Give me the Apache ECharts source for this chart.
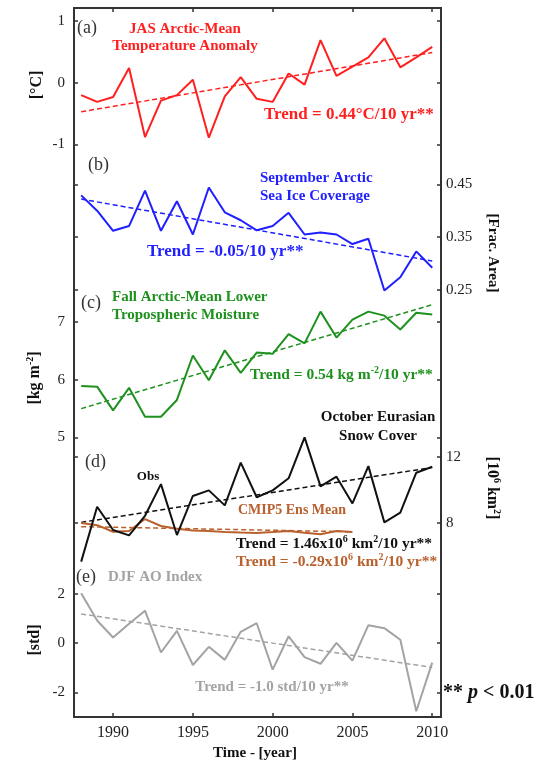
<!DOCTYPE html>
<html><head><meta charset="utf-8">
<script src="https://cdn.jsdelivr.net/npm/echarts@6/dist/echarts.min.js"></script>
<style>html,body{margin:0;padding:0;background:#fff;}#c{width:544px;height:763px;}</style>
</head><body><div id="c"></div>
<script>
const years = [1988,1989,1990,1991,1992,1993,1994,1995,1996,1997,1998,1999,2000,2001,2002,2003,2004,2005,2006,2007,2008,2009,2010];
const cmipYears = [1988,1989,1990,1991,1992,1993,1994,1995,1996,1997,1998,1999,2000,2001,2002,2003,2004,2005];
const tempAnom = [-0.2,-0.31,-0.23,0.24,-0.88,-0.29,-0.2,0.05,-0.89,-0.22,0.09,-0.26,-0.31,0.15,-0.03,0.69,0.11,0.26,0.41,0.72,0.25,0.41,0.58];
const seaIce = [0.429,0.4,0.362,0.371,0.438,0.362,0.418,0.355,0.444,0.397,0.382,0.363,0.371,0.396,0.355,0.359,0.355,0.337,0.347,0.249,0.274,0.323,0.292];
const moisture = [5.89,5.88,5.47,5.86,5.36,5.36,5.65,6.42,5.99,6.51,6.12,6.47,6.45,6.79,6.63,7.18,6.73,7.04,7.18,7.11,6.87,7.16,7.13];
const snowObs = [5.64,8.97,7.56,7.23,8.42,10.34,7.25,9.62,9.96,9.05,11.64,9.54,9.96,10.69,13.17,10.2,10.79,9.17,11.43,8.02,8.61,11.03,11.39];
const snowCmip = [7.98,7.85,7.45,7.5,8.22,7.8,7.64,7.53,7.5,7.44,7.4,7.38,7.43,7.5,7.39,7.3,7.5,7.43];
const aoIndex = [2.03,0.92,0.23,0.79,1.32,-0.38,0.5,-0.89,-0.15,-0.68,0.46,0.81,-1.08,0.28,-0.57,-0.84,0.01,-0.71,0.73,0.61,0.14,-2.77,-0.79];
const trendYears = [1988,2010];
const cmipTrendYears = [1988,2005];
const trendTemp = [-0.47,0.49];
const trendIce = [0.422,0.305];
const trendMoist = [5.5,7.3];
const trendSnowObs = [8.02,11.35];
const trendSnowCmip = [7.76,7.45];
const trendAO = [1.19,-0.99];
const xTickLabels = [1990,1995,2000,2005,2010];

const SERIF = '"Liberation Serif","Times New Roman",serif';
const chart = echarts.init(document.getElementById('c'));
const XMIN = 1987.55, XMAX = 2010.55;
const L = 74, W = 367;

const panels = [
  {top:21, h:123.5, min:-1, max:1, interval:1, labelSide:'left'},
  {top:184.3, h:105.7, min:0.25, max:0.45, interval:0.1, labelSide:'right'},
  {top:322, h:115.5, min:5, max:7, interval:1, labelSide:'left'},
  {top:456.7, h:66, min:8, max:12, interval:4, labelSide:'right'},
  {top:594, h:98.3, min:-2, max:2, interval:2, labelSide:'left'}
];
const grids = panels.map(p => ({left:L, width:W, top:p.top, height:p.h, outerBoundsMode:'none'}));
grids.push({left:L, width:W, top:8, height:709, show:true, borderColor:'#333', borderWidth:2, backgroundColor:'transparent', outerBoundsMode:'none'});

const xAxes = panels.map((p,i)=>({type:'value', gridIndex:i, min:XMIN, max:XMAX, show:false}));
const tickStyle = {show:true, inside:true, length:4, lineStyle:{color:'#333', width:1.5}};
xAxes.push({type:'value', gridIndex:5, position:'bottom', min:XMIN, max:XMAX,
  axisLine:{show:false}, splitLine:{show:false},
  axisTick:Object.assign({customValues:xTickLabels}, tickStyle),
  axisLabel:{customValues:xTickLabels, fontFamily:SERIF, fontSize:16, color:'#222', margin:8, formatter: v => String(Math.round(v))}});
xAxes.push({type:'value', gridIndex:5, position:'top', min:XMIN, max:XMAX,
  axisLine:{show:false}, splitLine:{show:false},
  axisTick:Object.assign({customValues:xTickLabels}, tickStyle),
  axisLabel:{show:false}});

const yAxes = [];
panels.forEach((p,i)=>{
  ['left','right'].forEach(side=>{
    yAxes.push({type:'value', gridIndex:i, position:side, min:p.min, max:p.max, interval:p.interval,
      axisLine:{show:false}, splitLine:{show:false}, axisTick:tickStyle,
      axisLabel:{show: side===p.labelSide, fontFamily:SERIF, fontSize:15, color:'#222', margin: side==='left'?9:5,
        formatter: v => (p.interval<1 ? v.toFixed(2) : String(Math.round(v)))}});
  });
});
yAxes.push({type:'value', gridIndex:5, show:false, min:0, max:1});

function pairs(xs, ys){ return xs.map((x,i)=>[x, ys[i]]); }
function line(gi, data, color, width, dashed){
  return {type:'line', xAxisIndex:gi, yAxisIndex:gi*2, data, showSymbol:false, clip:false, silent:true,
    lineStyle:{color, width, type: dashed ? [5,3] : 'solid'}, z: dashed?2:3};
}
const RED='#ff1f1f', BLUE='#1f1fff', GREEN='#1e911e', BLACK='#111111', BROWN='#b8612e', GRAY='#a3a3a3';
const series = [
  line(0, pairs(years,tempAnom), RED, 2, false),
  line(0, pairs(trendYears,trendTemp), RED, 1.5, true),
  line(1, pairs(years,seaIce), BLUE, 2, false),
  line(1, pairs(trendYears,trendIce), BLUE, 1.5, true),
  line(2, pairs(years,moisture), GREEN, 2, false),
  line(2, pairs(trendYears,trendMoist), GREEN, 1.5, true),
  line(3, pairs(trendYears,trendSnowObs), BLACK, 1.5, true),
  line(3, pairs(cmipTrendYears,trendSnowCmip), BROWN, 1.5, true),
  line(3, pairs(cmipYears,snowCmip), BROWN, 2, false),
  line(3, pairs(years,snowObs), BLACK, 2, false),
  line(4, pairs(years,aoIndex), GRAY, 2, false),
  line(4, pairs(trendYears,trendAO), GRAY, 1.5, true)
];

function txt(text, x, y, size, color, opts){
  opts = opts || {};
  const st = {text, x:0, y:0, fill:color, align:opts.align||'left', verticalAlign:'middle',
    font:(opts.italic?'italic ':'')+(opts.bold===false?'':'bold ')+size+'px '+SERIF};
  if (opts.rich) st.rich = opts.rich;
  return {type:'text', x, y, rotation:opts.rot||0, style:st, z:10};
}
function supRich(size, color){
  return {n:{fontSize:size, fontWeight:'bold', fontFamily:SERIF, fill:color, lineHeight:size+4},
          s:{fontSize:Math.round(size*0.62), fontWeight:'bold', fontFamily:SERIF, fill:color, verticalAlign:'top', lineHeight:size+4}};
}
const DARK='#333';
const graphics = [
  txt('(a)', 77, 28, 18, DARK, {bold:false}),
  txt('JAS Arctic-Mean', 185, 29, 15, RED, {align:'center'}),
  txt('Temperature Anomaly', 185, 46, 15, RED, {align:'center'}),
  txt('Trend = 0.44°C/10 yr**', 264, 115, 17, RED),
  txt('(b)', 88, 165, 18, DARK, {bold:false}),
  txt('September Arctic', 260, 178, 15, BLUE),
  txt('Sea Ice Coverage', 260, 196, 15, BLUE),
  txt('Trend = -0.05/10 yr**', 147, 252, 17, BLUE),
  txt('(c)', 81, 303, 18, DARK, {bold:false}),
  txt('Fall Arctic-Mean Lower', 112, 297, 15, GREEN),
  txt('Tropospheric Moisture', 112, 315, 15, GREEN),
  txt('{n|Trend = 0.54 kg m}{s|-2}{n|/10 yr**}', 250, 375, 15.5, GREEN, {rich:supRich(15.5,GREEN)}),
  txt('October Eurasian', 378, 417, 15, BLACK, {align:'center'}),
  txt('Snow Cover', 378, 436, 15, BLACK, {align:'center'}),
  txt('(d)', 85, 462, 18, DARK, {bold:false}),
  txt('Obs', 148, 477, 13, BLACK, {align:'center'}),
  txt('CMIP5 Ens Mean', 292, 510, 14, BROWN, {align:'center'}),
  txt('{n|Trend = 1.46x10}{s|6}{n| km}{s|2}{n|/10 yr**}', 236, 544, 15.5, BLACK, {rich:supRich(15.5,BLACK)}),
  txt('{n|Trend = -0.29x10}{s|6}{n| km}{s|2}{n|/10 yr**}', 236, 562, 15.5, BROWN, {rich:supRich(15.5,BROWN)}),
  txt('(e)', 76, 577, 18, DARK, {bold:false}),
  txt('DJF AO Index', 108, 577, 15, GRAY),
  txt('Trend = -1.0 std/10 yr**', 272, 687, 15, GRAY, {align:'center'}),
  txt('{n|** }{i|p}{n| < 0.01}', 443, 693, 20, BLACK, {rich:{
     n:{fontSize:20, fontWeight:'bold', fontFamily:SERIF, fill:BLACK},
     i:{fontSize:20, fontWeight:'bold', fontStyle:'italic', fontFamily:SERIF, fill:BLACK}}}),
  txt('Time - [year]', 255, 753, 15, BLACK, {align:'center'}),
  txt('[°C]', 37, 85, 16, BLACK, {align:'center', rot:Math.PI/2}),
  txt('{n|[kg m}{s|-2}{n|]}', 35, 378, 16, BLACK, {align:'center', rot:Math.PI/2, rich:supRich(16,BLACK)}),
  txt('[std]', 35, 640, 16, BLACK, {align:'center', rot:Math.PI/2}),
  txt('[Frac. Area]', 493, 253, 15, BLACK, {align:'center', rot:-Math.PI/2}),
  txt('{n|[10}{s|6}{n| km}{s|2}{n|]}', 492, 488, 16, BLACK, {align:'center', rot:-Math.PI/2, rich:supRich(16,BLACK)})
];

chart.setOption({
  animation:false,
  backgroundColor:'#fff',
  grid:grids, xAxis:xAxes, yAxis:yAxes, series,
  graphic:{elements:graphics}
});
</script></body></html>
